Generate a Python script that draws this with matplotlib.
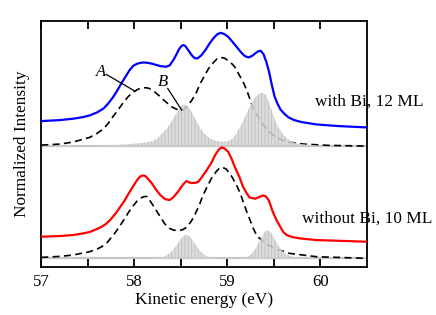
import numpy as np
import matplotlib
matplotlib.use("Agg")
import matplotlib.pyplot as plt

plt.rcParams['font.family'] = ['Liberation Serif', 'DejaVu Serif']
plt.rcParams['hatch.linewidth'] = 0.6
plt.rcParams['hatch.color'] = '#b5b5b5'

# values, as depth from the top (0 = top, 738 = bottom of frame)
TOP = 800.0

# --- with Bi, 12 ML ---
e_blue = [57.00, 57.20, 57.34, 57.45, 57.52, 57.60, 57.67, 57.72, 57.77, 57.82, 57.86, 57.91,
          57.95, 57.99, 58.03, 58.07, 58.10, 58.14, 58.18, 58.23, 58.28, 58.34, 58.38, 58.42,
          58.45, 58.48, 58.51, 58.53, 58.55, 58.58, 58.62, 58.65, 58.68, 58.72, 58.77, 58.81,
          58.85, 58.89, 58.93, 58.97, 59.01, 59.05, 59.10, 59.15, 59.19, 59.23, 59.27, 59.30,
          59.33, 59.36, 59.39, 59.42, 59.45, 59.48, 59.51, 59.54, 59.57, 59.61, 59.66, 59.72,
          59.80, 59.96, 60.20, 60.50]
d_blue = [363, 360, 356, 351, 346, 337, 325, 310, 292, 270, 250, 228,
          210, 197, 191, 188, 187, 188, 190, 194, 198, 200, 196, 180,
          165, 148, 137, 135, 138, 150, 166, 174, 175, 166, 148, 130,
          115, 103, 98, 102, 110, 123, 140, 157, 168, 172, 167, 160,
          154, 152, 162, 185, 215, 255, 290, 310, 327, 340, 352, 360,
          366, 373, 378, 382]

e_fit1 = [57.00, 57.20, 57.34, 57.52, 57.60, 57.67, 57.72, 57.77, 57.83, 57.88, 57.93, 57.97,
          58.03, 58.07, 58.10, 58.13, 58.16, 58.21, 58.26, 58.33, 58.40, 58.46, 58.51, 58.56,
          58.62, 58.67, 58.71, 58.76, 58.80, 58.85, 58.89, 58.93, 58.97, 59.03, 59.08, 59.12,
          59.17, 59.21, 59.28, 59.34, 59.39, 59.49, 59.57, 59.64, 59.82, 60.10, 60.50]
d_fit1 = [435, 432, 426, 412, 400, 386, 370, 350, 328, 308, 291, 280,
          269, 264, 263, 263, 265, 273, 285, 303, 320, 328, 332, 322,
          300, 276, 250, 225, 205, 188, 176, 172, 174, 185, 200, 220,
          245, 270, 325, 355, 375, 405, 418, 425, 432, 436, 438]

e_bi1 = [57.60, 57.70, 57.80, 57.90, 58.00, 58.10, 58.20, 58.25, 58.30, 58.35, 58.40, 58.45,
         58.50, 58.53, 58.56, 58.60, 58.65, 58.70, 58.75, 58.80, 58.85, 58.90, 58.95, 59.00,
         59.05, 59.10, 59.15, 59.20, 59.25, 59.30, 59.35, 59.38, 59.42, 59.46, 59.50, 59.55,
         59.60, 59.65, 59.70, 59.75, 59.80, 59.90, 60.00, 60.10]
d_bi1 = [437, 436, 435, 433, 431, 428, 423, 415, 400, 385, 365, 342,
         320, 313, 316, 328, 352, 380, 400, 413, 420, 424, 425, 424,
         418, 400, 375, 345, 315, 292, 280, 278, 285, 315, 350, 382,
         402, 417, 425, 430, 432, 435, 437, 438]
base1 = 438

# --- without Bi, 10 ML ---
e_red = [57.00, 57.20, 57.34, 57.45, 57.52, 57.63, 57.69, 57.74, 57.80, 57.85, 57.90, 57.94,
         57.99, 58.03, 58.06, 58.09, 58.12, 58.15, 58.19, 58.23, 58.28, 58.33, 58.38, 58.42,
         58.47, 58.52, 58.56, 58.59, 58.62, 58.66, 58.69, 58.73, 58.78, 58.83, 58.87, 58.91,
         58.94, 58.97, 59.01, 59.05, 59.08, 59.13, 59.17, 59.21, 59.24, 59.30, 59.35, 59.39,
         59.42, 59.45, 59.49, 59.53, 59.57, 59.60, 59.64, 59.70, 59.78, 59.96, 60.50]
d_red = [710, 708, 705, 700, 696, 683, 673, 660, 640, 620, 600, 580,
         558, 540, 530, 526, 528, 537, 550, 567, 585, 597, 600, 592,
         575, 555, 543, 547, 549, 548, 545, 530, 510, 488, 465, 448,
         442, 445, 455, 478, 500, 530, 560, 580, 592, 596, 590, 586,
         590, 603, 635, 660, 680, 695, 705, 711, 715, 720, 725]

e_fit2 = [57.00, 57.20, 57.34, 57.52, 57.60, 57.65, 57.71, 57.76, 57.81, 57.85, 57.90, 57.94,
          57.99, 58.03, 58.07, 58.10, 58.12, 58.14, 58.20, 58.25, 58.29, 58.33, 58.38, 58.42,
          58.47, 58.52, 58.56, 58.61, 58.65, 58.70, 58.74, 58.79, 58.83, 58.88, 58.92, 58.95,
          58.99, 59.05, 59.10, 59.14, 59.21, 59.28, 59.32, 59.41, 59.51, 59.67, 59.96, 60.50]
d_fit2 = [772, 769, 765, 755, 747, 740, 727, 710, 692, 675, 655, 636,
          617, 603, 594, 590, 589, 590, 615, 637, 655, 672, 685, 690,
          692, 689, 682, 665, 645, 615, 585, 557, 535, 515, 503, 502,
          507, 530, 555, 580, 635, 685, 708, 730, 745, 760, 770, 775]

e_bi2 = [58.20, 58.30, 58.35, 58.40, 58.45, 58.50, 58.55, 58.60, 58.65, 58.70, 58.75, 58.80,
         58.85, 58.90, 59.15, 59.20, 59.25, 59.30, 59.35, 59.40, 59.43, 59.47, 59.52, 59.57,
         59.62, 59.68, 59.75, 59.85]
d_bi2 = [775, 772, 766, 755, 738, 716, 703, 710, 730, 750, 764, 771,
         774, 775, 775, 772, 765, 748, 722, 697, 690, 697, 722, 745,
         760, 768, 773, 775]
base2 = 775


def h(v):
    return TOP - np.array(v, dtype=float)


fig = plt.figure(figsize=(4.36, 3.15), dpi=100)
ax = fig.add_axes([0.0947, 0.1533, 0.7463, 0.7807])

dash = (0, (4.2, 2.6))
for e_fit, d_fit, e_bi, d_bi, base in [(e_fit1, d_fit1, e_bi1, d_bi1, base1),
                                       (e_fit2, d_fit2, e_bi2, d_bi2, base2)]:
    ax.axhline(TOP - base, color='#c8c8c8', lw=1.6, zorder=1)
    ax.plot(e_fit, h(d_fit), color='black', lw=1.2, ls=dash, zorder=2)
    ax.fill_between(e_bi, h(d_bi), TOP - base, facecolor='#d6d6d6', alpha=0.85,
                    hatch='|||||', edgecolor='#b8b8b8', linewidth=0, zorder=3)

ax.plot(e_blue, h(d_blue), color='#0000ff', lw=1.6, zorder=4)
ax.plot(e_red, h(d_red), color='#ff0000', lw=1.6, zorder=4)

# labels A and B with pointer lines
ax.text(57.64, TOP - 215, 'A', style='italic', fontsize=12, ha='center', va='center')
ax.plot([57.70, 58.00], [TOP - 223, TOP - 272], color='black', lw=0.9, zorder=5)
ax.text(58.31, TOP - 245, 'B', style='italic', fontsize=12, ha='center', va='center')
ax.plot([58.36, 58.51], [TOP - 265, TOP - 330], color='black', lw=0.9, zorder=5)

ax.text(59.94, TOP - 305, 'with Bi, 12 ML', fontsize=12.4, ha='left', va='center')
ax.text(59.80, TOP - 655, 'without Bi, 10 ML', fontsize=12.4, ha='left', va='center')

ax.set_xlim(57, 60.5)
ax.set_ylim(0, TOP - 62)
ax.set_xticks([57, 57.5, 58, 58.5, 59, 59.5, 60])
ax.set_xticklabels(['57', '', '58', '', '59', '', '60'])
ax.set_yticks([])
ax.tick_params(axis='x', direction='in', top=True, length=6, width=1.3,
               labelsize=12, pad=5)
for s in ax.spines.values():
    s.set_linewidth(1.3)

ax.set_xlabel('Kinetic energy (eV)', fontsize=12.4, labelpad=2)
ax.set_ylabel('Normalized Intensity', fontsize=12.4, labelpad=8)

fig.savefig('out.png', dpi=100)
